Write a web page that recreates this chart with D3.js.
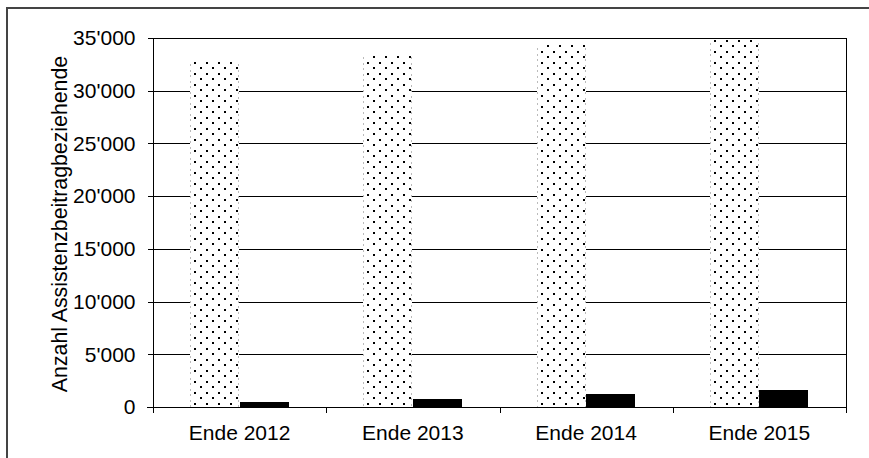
<!DOCTYPE html>
<html>
<head>
<meta charset="utf-8">
<script src="https://cdn.jsdelivr.net/npm/d3@7"></script>
<style>
  body { margin: 0; background: #fff; }
  svg { display: block; }
  text { font-family: "Liberation Sans", Arial, Helvetica, sans-serif; fill: #000; }
</style>
</head>
<body>
<div id="chart"></div>
<script>
// data
var categories = ["Ende 2012", "Ende 2013", "Ende 2014", "Ende 2015"];
var seriesNames = ["gesamt", "assistenz"];
var dottedValues = [32900, 33600, 34400, 34950];
var blackValues = [430, 760, 1230, 1610];
var yTicks = [0, 5000, 10000, 15000, 20000, 25000, 30000, 35000];
var yTitle = "Anzahl Assistenzbeitragbeziehende";

var W = 869, H = 458;
var plot = {left: 153, right: 846, top: 38, bottom: 407};

var svg = d3.select("#chart").append("svg")
    .attr("width", W)
    .attr("height", H)
    .attr("shape-rendering", "crispEdges");

//dot pattern for the first series
var defs = svg.append("defs");
var pat = defs.append("pattern")
    .attr("id", "dots")
    .attr("patternUnits", "userSpaceOnUse")
    .attr("width", 12)
    .attr("height", 11)
    .attr("x", 0)
    .attr("y", 0);
pat.append("rect").attr("width", 12).attr("height", 11).attr("fill", "#fff");
pat.append("rect").attr("x", 10).attr("y", 1).attr("width", 2).attr("height", 2).attr("fill", "#000");
pat.append("rect").attr("x", 4).attr("y", 7).attr("width", 2).attr("height", 2).attr("fill", "#000");

//outer frame (left and top only visible)
svg.append("line")
    .attr("x1", 6.5).attr("x2", 6.5).attr("y1", 7).attr("y2", H)
    .attr("stroke", "#444").attr("stroke-width", 2);
svg.append("line")
    .attr("x1", 6).attr("x2", W).attr("y1", 7.5).attr("y2", 7.5)
    .attr("stroke", "#444").attr("stroke-width", 2);

var x = d3.scaleBand()
    .domain(categories)
    .range([plot.left, plot.right])
    .paddingInner(0.4286)
    .paddingOuter(0.2143);

var xSub = d3.scaleBand()
    .domain(seriesNames)
    .range([0, x.bandwidth()]);

var y = d3.scaleLinear()
    .domain([0, 35000])
    .range([plot.bottom, plot.top]);

var locale = d3.formatLocale({decimal: ".", thousands: "'", grouping: [3], currency: ["", ""]});
var fmt = locale.format(",");

//gridlines
svg.append("g").selectAll("line")
    .data(yTicks)
    .enter().append("line")
    .attr("x1", plot.left).attr("x2", plot.right)
    .attr("y1", function(d){ return Math.round(y(d)) + 0.5; })
    .attr("y2", function(d){ return Math.round(y(d)) + 0.5; })
    .attr("stroke", "#000")
    .attr("stroke-width", 1);

//dotted bars
var dotG = svg.append("g").selectAll("g")
    .data(categories)
    .enter().append("g")
    .attr("transform", function(d){ return "translate(" + Math.round(x(d) + xSub("gesamt")) + ",0)"; });

dotG.append("rect")
    .attr("x", 0)
    .attr("y", function(d, i){ return Math.round(y(dottedValues[i])); })
    .attr("width", Math.round(xSub.bandwidth()))
    .attr("height", function(d, i){ return Math.round(y(0)) - Math.round(y(dottedValues[i])); })
    .attr("fill", "url(#dots)");

//faint edges of the pattern
dotG.selectAll("line.edge")
    .data(function(d, i){ return [{v: dottedValues[i], xx: 0.5}, {v: dottedValues[i], xx: Math.round(xSub.bandwidth()) - 0.5}]; })
    .enter().append("line")
    .attr("class", "edge")
    .attr("x1", function(e){ return e.xx; })
    .attr("x2", function(e){ return e.xx; })
    .attr("y1", function(e){ return Math.round(y(e.v)) + 4; })
    .attr("y2", y(0))
    .attr("stroke", "#bbb")
    .attr("stroke-dasharray", "2,3.5")
    .attr("stroke-width", 1);

//black bars
svg.append("g").selectAll("rect")
    .data(categories)
    .enter().append("rect")
    .attr("x", function(d){ return Math.round(x(d) + xSub("assistenz")); })
    .attr("y", function(d, i){ return y(blackValues[i]); })
    .attr("width", Math.round(xSub.bandwidth()))
    .attr("height", function(d, i){ return y(0) - y(blackValues[i]); })
    .attr("fill", "#000");

//y axis
var yAxis = d3.axisLeft(y)
    .tickValues(yTicks)
    .tickSize(6)
    .tickPadding(12)
    .tickFormat(fmt);

var yg = svg.append("g")
    .attr("transform", "translate(" + (plot.left + 0.5) + ",0)")
    .call(yAxis);
yg.select(".domain").remove();
yg.selectAll(".tick line").attr("stroke", "#000");
yg.selectAll(".tick text")
    .style("font-size", "21px")
    .attr("font-family", null);

//axis lines and plot frame
svg.append("line")
    .attr("x1", plot.left + 0.5).attr("x2", plot.left + 0.5)
    .attr("y1", plot.top).attr("y2", plot.bottom + 6)
    .attr("stroke", "#000");
svg.append("line")
    .attr("x1", plot.right + 0.5).attr("x2", plot.right + 0.5)
    .attr("y1", plot.top).attr("y2", plot.bottom + 6)
    .attr("stroke", "#000");
svg.append("line")
    .attr("x1", plot.left - 6).attr("x2", plot.right + 1)
    .attr("y1", Math.round(y(0)) + 0.5).attr("y2", Math.round(y(0)) + 0.5)
    .attr("stroke", "#000")
    .attr("stroke-width", 1.5);

//category ticks on band boundaries
var boundaries = categories.map(function(d){ return x(d) - x.step() * x.paddingOuter(); });
boundaries.push(plot.right);
svg.append("g").selectAll("line")
    .data(boundaries.slice(1))
    .enter().append("line")
    .attr("x1", function(d){ return Math.round(d) + 0.5; })
    .attr("x2", function(d){ return Math.round(d) + 0.5; })
    .attr("y1", plot.bottom)
    .attr("y2", plot.bottom + 6)
    .attr("stroke", "#000");

//category labels
svg.append("g").selectAll("text")
    .data(categories)
    .enter().append("text")
    .attr("x", function(d){ return x(d) + x.bandwidth() / 2; })
    .attr("y", 440)
    .attr("text-anchor", "middle")
    .style("font-size", "21px")
    .text(function(d){ return d; });

//y title
svg.append("text")
    .attr("transform", "translate(67,224) rotate(-90)")
    .attr("text-anchor", "middle")
    .style("font-size", "21.3px")
    .text(yTitle);
</script>
</body>
</html>
